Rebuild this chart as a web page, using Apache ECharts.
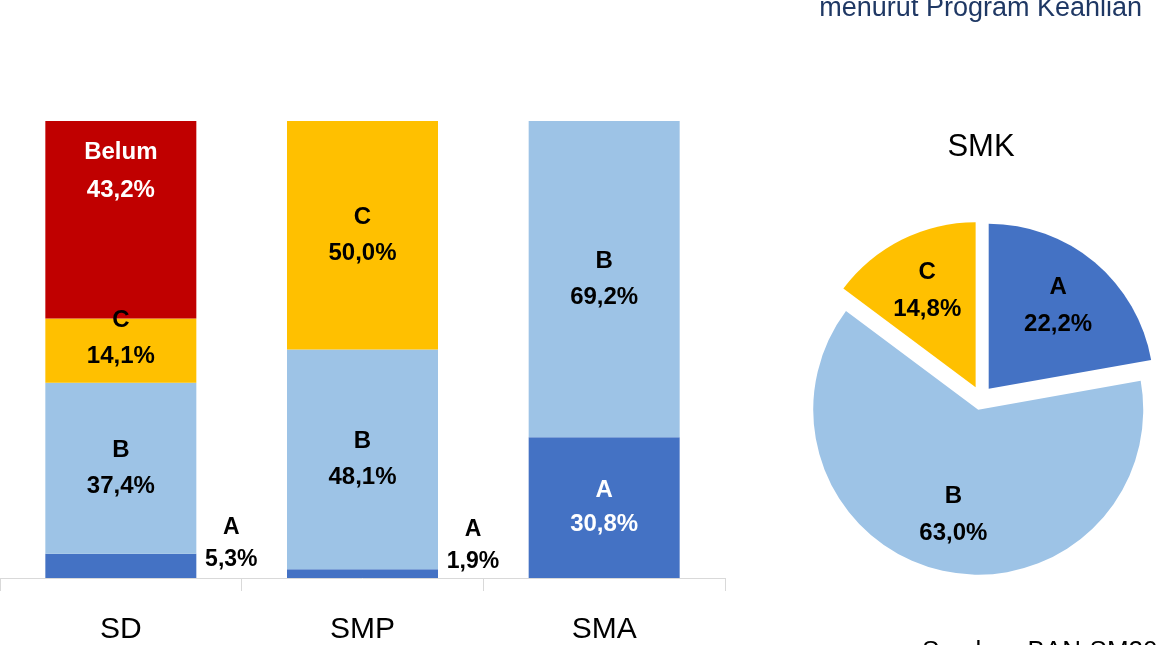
<!DOCTYPE html>
<html>
<head>
<meta charset="utf-8">
<script src="https://cdn.jsdelivr.net/npm/echarts@6/dist/echarts.min.js"></script>
<style>
  html, body { margin: 0; padding: 0; background: #fff; }
  #chart { width: 1160px; height: 645px; }
</style>
</head>
<body>
<div id="chart"></div>
<script>
  // data (percent)
  const categories = ['SD', 'SMP', 'SMA'];
  const valuesA = [5.3, 1.9, 30.8];
  const valuesB = [37.4, 48.1, 69.2];
  const valuesC = [14.1, 50.0, null];
  const valuesBelum = [43.2, null, null];

  const smkNames = ['A', 'B', 'C'];
  const smkValues = [22.2, 63.0, 14.8];

  const colors = { A: '#4472C4', B: '#9DC3E6', C: '#FFC000', Belum: '#C00000' };
  const font = 'Liberation Sans';

  const pct = (v) => Number(v).toFixed(1).replace('.', ',') + '%';

  // per-bar label tweaks (index -> label option)
  const labelTweaks = {
    A: {
      0: { position: 'right', distance: 35, align: 'center', offset: [0, -22], lineHeight: 32, fontSize: 23 },
      1: { position: 'right', distance: 35, align: 'center', offset: [0, -28], lineHeight: 32, fontSize: 23 },
      2: { color: '#fff', lineHeight: 34 }
    },
    C: { 0: { offset: [0, -12] } },
    Belum: { 0: { position: 'insideTop', distance: 12, color: '#fff', lineHeight: 38 } }
  };

  const barSeries = (name, values) => ({
    name: name,
    type: 'bar',
    stack: 'total',
    barWidth: 151,
    itemStyle: { color: colors[name] },
    label: {
      show: true,
      position: 'inside',
      color: '#000',
      fontFamily: font,
      fontWeight: 'bold',
      fontSize: 24,
      lineHeight: 36,
      formatter: (p) => p.seriesName + '\n' + pct(p.value)
    },
    data: values.map((v, i) => {
      const tweak = (labelTweaks[name] || {})[i];
      return tweak ? { value: v, label: tweak } : v;
    })
  });

  const pieData = (withLabel) => smkNames.map((n, i) => ({
    name: n,
    value: smkValues[i],
    selected: true,
    itemStyle: { color: withLabel ? 'rgba(0,0,0,0)' : colors[n], borderWidth: 0 }
  }));

  const chart = echarts.init(document.getElementById('chart'));
  chart.setOption({
    animation: false,
    textStyle: { fontFamily: font },
    title: [
      {
        text: 'menurut Program Keahlian',
        right: 18, top: -5, padding: 0,
        textStyle: { color: '#1F3864', fontSize: 27, fontWeight: 'normal', fontFamily: font }
      },
      {
        text: 'SMK',
        left: 981, top: 132, padding: 0, textAlign: 'center',
        textStyle: { color: '#000', fontSize: 31, fontWeight: 'normal', fontFamily: font }
      },
      {
        text: 'Sumber: BAN-SM2019',
        left: 922, top: 639, padding: 0,
        textStyle: { color: '#000', fontSize: 26, fontWeight: 'normal', fontFamily: font }
      }
    ],
    grid: { left: -2, right: 435, top: 121, bottom: 67 },
    xAxis: {
      type: 'category',
      data: categories,
      axisLine: { lineStyle: { color: '#D9D9D9', width: 1 } },
      axisTick: { show: true, length: 13, lineStyle: { color: '#D9D9D9' } },
      axisLabel: { color: '#000', fontSize: 30, margin: 37, fontFamily: font }
    },
    yAxis: { type: 'value', min: 0, max: 100, show: false },
    series: [
      barSeries('A', valuesA),
      barSeries('B', valuesB),
      barSeries('C', valuesC),
      barSeries('Belum', valuesBelum),
      {
        type: 'pie',
        center: [981, 398],
        radius: 165,
        startAngle: 90,
        clockwise: true,
        selectedMode: 'multiple',
        selectedOffset: 12,
        silent: true,
        label: { show: false },
        labelLine: { show: false },
        select: { itemStyle: { borderWidth: 0 } },
        data: pieData(false)
      },
      {
        // transparent copy that only carries the labels, a bit further out
        type: 'pie',
        center: [981, 398],
        radius: [45, 165],
        startAngle: 90,
        clockwise: true,
        selectedMode: 'multiple',
        selectedOffset: 12,
        silent: true,
        label: {
          show: true,
          position: 'inside',
          color: '#000',
          fontFamily: font,
          fontWeight: 'bold',
          fontSize: 24,
          lineHeight: 37,
          formatter: (p) => p.name + '\n' + pct(p.value)
        },
        labelLine: { show: false },
        select: { itemStyle: { borderWidth: 0, color: 'rgba(0,0,0,0)' } },
        data: pieData(true)
      }
    ]
  });
</script>
</body>
</html>
